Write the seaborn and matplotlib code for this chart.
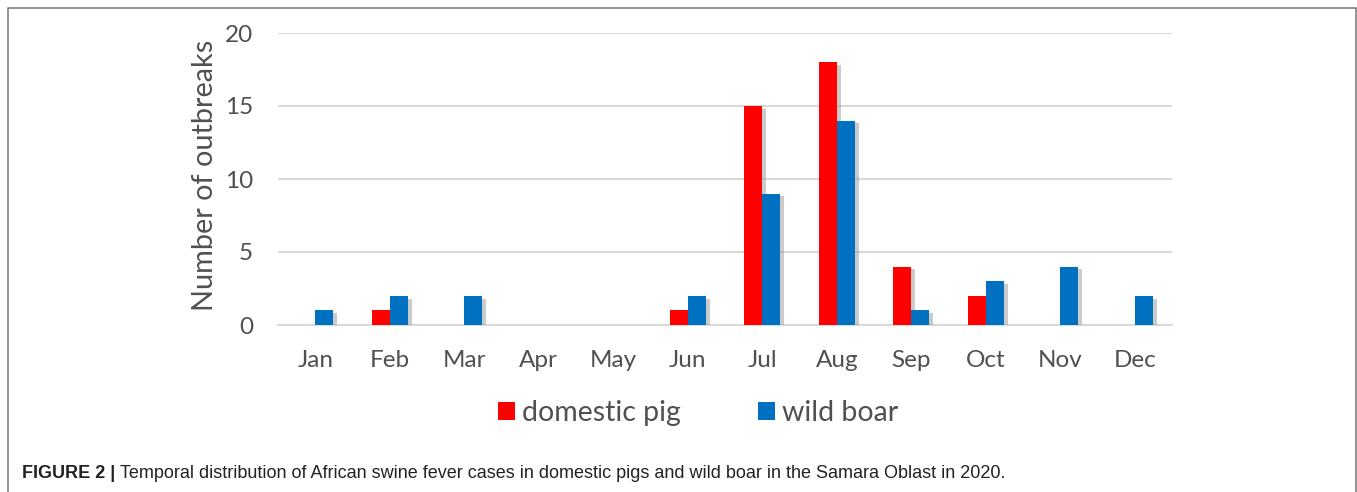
import matplotlib
matplotlib.use("Agg")
import matplotlib.pyplot as plt
import matplotlib.patheffects as pe
from matplotlib.patches import Patch
from matplotlib.lines import Line2D
import pandas as pd
import seaborn as sns

# data
months = ["Jan", "Feb", "Mar", "Apr", "May", "Jun", "Jul", "Aug", "Sep", "Oct", "Nov", "Dec"]
domestic_pig = [0, 1, 0, 0, 0, 1, 15, 18, 4, 2, 0, 0]
wild_boar = [1, 2, 2, 0, 0, 2, 9, 14, 1, 3, 4, 2]
series_names = ["domestic pig", "wild boar"]
colors = ["#FF0000", "#0070C0"]
y_ticks = [0, 5, 10, 15, 20]

df = pd.DataFrame({
    "month": months * 2,
    "outbreaks": domestic_pig + wild_boar,
    "host": [series_names[0]] * len(months) + [series_names[1]] * len(months),
})

sns.set_theme(style="white")
plt.rcParams["font.family"] = ["Lato", "DejaVu Sans"]
text_col = "#505050"

W, H = 1357, 492
fig = plt.figure(figsize=(W / 100, H / 100), dpi=100)
ax = fig.add_axes([278 / W, 1 - 325 / H, 894 / W, 292 / H])

sns.barplot(data=df, x="month", y="outbreaks", hue="host", order=months,
            hue_order=series_names, palette=colors, width=0.48,
            saturation=1, ax=ax, legend=False, zorder=3)

shadow = [pe.SimplePatchShadow(offset=(3, -2), shadow_rgbFace="#999999", alpha=0.5), pe.Normal()]
for bar in ax.patches:
    bar.set_linewidth(0)
    if bar.get_height() <= 0:
        bar.set_visible(False)
    else:
        bar.set_path_effects(shadow)

ax.set_ylim(0, 20)
ax.set_xlim(-0.5, 11.5)
ax.set_yticks(y_ticks)
ax.yaxis.grid(True, color="#D9D9D9", linewidth=1.5, zorder=0)
ax.set_axisbelow(True)
for s in ["top", "right", "left"]:
    ax.spines[s].set_visible(False)
ax.spines["bottom"].set_color("#D9D9D9")
ax.spines["bottom"].set_linewidth(1.5)
ax.tick_params(axis="both", length=0, labelsize=17.5, labelcolor=text_col)
ax.tick_params(axis="y", pad=18)
ax.tick_params(axis="x", pad=18)
ax.set_xlabel("")
ax.set_ylabel("")

fig.text(205 / W, 1 - 175 / H, "Number of outbreaks", rotation=90,
         ha="center", va="center", fontsize=20.8, color=text_col)

handles = [Patch(facecolor=c, edgecolor="none") for c in colors]
fig.legend(handles, series_names, loc="center", bbox_to_anchor=(698 / W, 1 - 413 / H),
           ncol=2, frameon=False, fontsize=20.5, handlelength=0.6, handleheight=0.6,
           handletextpad=0.25, columnspacing=2.7, labelcolor=text_col)

# outer frame: top, left and right edges, open at the bottom
frame_x = [8 / W, 8 / W, 1356 / W, 1356 / W]
frame_y = [0, 1 - 8 / H, 1 - 8 / H, 0]
fig.add_artist(Line2D(frame_x, frame_y, transform=fig.transFigure,
                      color="#808080", linewidth=1.2))

# caption
cap = fig.text(22 / W, 1 - 473 / H, "FIGURE 2 | ", fontsize=13, fontweight="bold",
               family="Liberation Sans", color="#222222", va="center", ha="left")
ax.annotate("Temporal distribution of African swine fever cases in domestic pigs and wild boar in the Samara Oblast in 2020.",
            xy=(1, 0.5), xycoords=cap, va="center", ha="left", annotation_clip=False,
            fontsize=13, family="Liberation Sans", color="#222222")

fig.savefig("out.png", dpi=100)
